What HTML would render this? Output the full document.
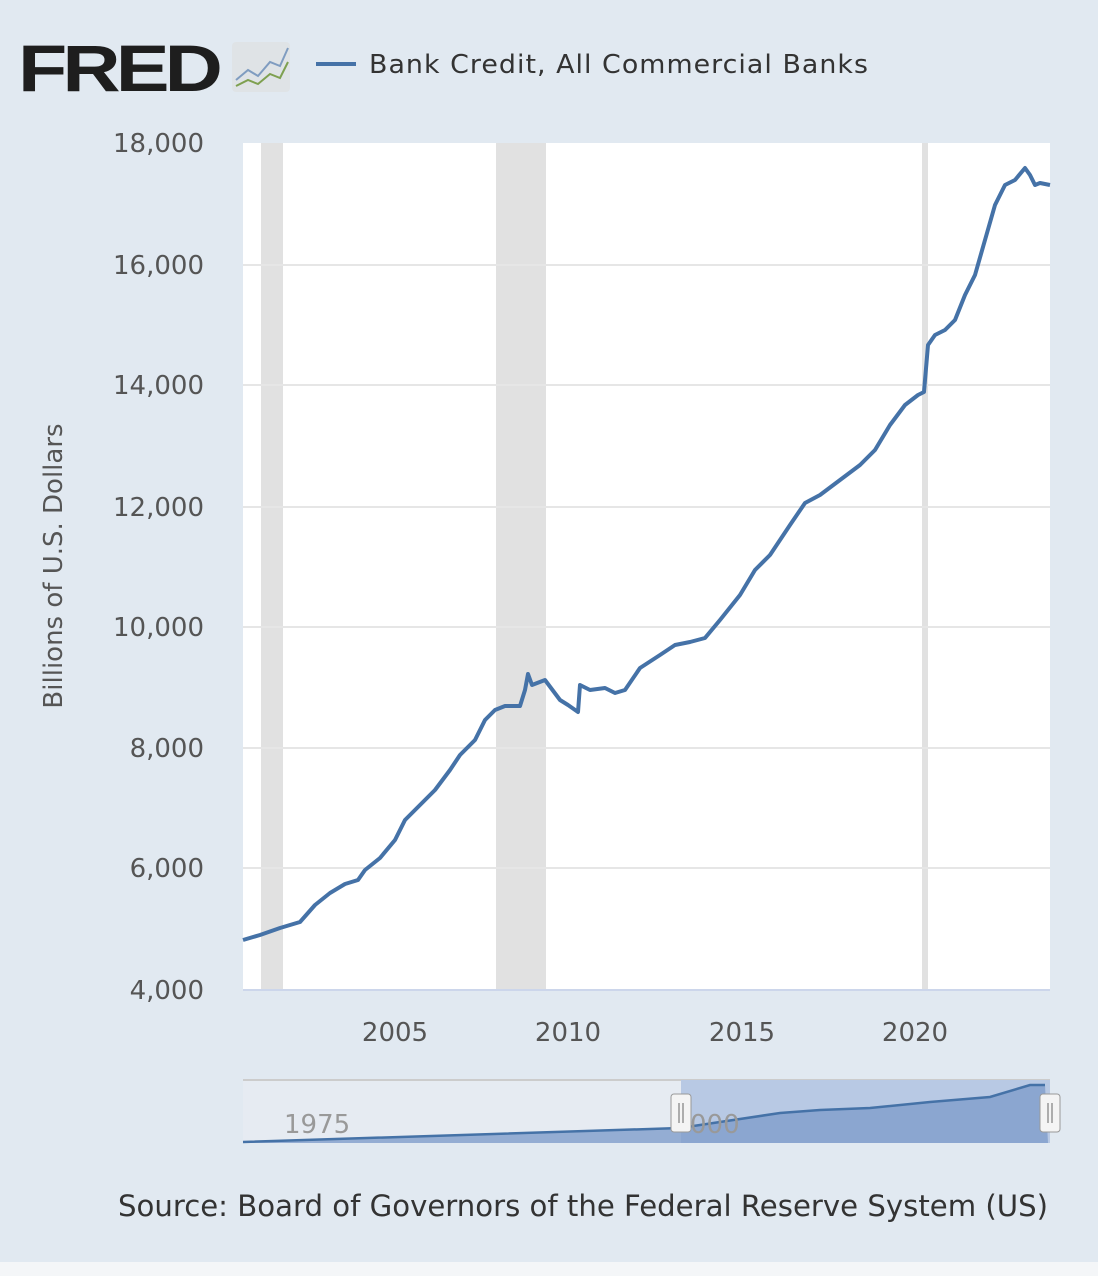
<!DOCTYPE html>
<html><head><meta charset="utf-8"><style>
body{margin:0;width:1098px;height:1276px;background:#e1e9f1;overflow:hidden;font-family:"Liberation Sans",sans-serif}
</style></head><body>
<svg width="1098" height="1276" xmlns="http://www.w3.org/2000/svg" style="position:absolute;left:0;top:0">
<rect x="0" y="0" width="1098" height="1276" fill="#e1e9f1"/>
<rect x="0" y="1262" width="1098" height="14" fill="#f4f6f8"/>
<text x="18" y="91" font-family="Liberation Sans" font-weight="bold" font-size="66" fill="#1e1e1e" letter-spacing="-4" textLength="200" lengthAdjust="spacingAndGlyphs">FRED</text>
<rect x="232" y="42" width="58" height="50" rx="4" fill="#dfe3e6"/>
<polyline points="236,80 248,70 258,76 270,62 280,66 288,48" fill="none" stroke="#7f9cc0" stroke-width="2"/>
<polyline points="236,86 248,80 258,84 270,74 280,78 288,62" fill="none" stroke="#7ea050" stroke-width="2"/>
<line x1="316" y1="64" x2="356" y2="64" stroke="#4572a7" stroke-width="4"/>
<text x="369" y="73" font-size="26" fill="#333" letter-spacing="1" font-family="DejaVu Sans" textLength="500" lengthAdjust="spacingAndGlyphs">Bank Credit, All Commercial Banks</text>
<rect x="243" y="143" width="807" height="847" fill="#fff"/>
<rect x="261" y="143" width="22" height="847" fill="#e1e1e1"/>
<rect x="496" y="143" width="50" height="847" fill="#e1e1e1"/>
<rect x="922" y="143" width="6" height="847" fill="#e1e1e1"/>
<g stroke="#e6e6e6" stroke-width="2">
<line x1="243" y1="265" x2="1050" y2="265"/><line x1="243" y1="385" x2="1050" y2="385"/>
<line x1="243" y1="507" x2="1050" y2="507"/><line x1="243" y1="627" x2="1050" y2="627"/>
<line x1="243" y1="748" x2="1050" y2="748"/><line x1="243" y1="868" x2="1050" y2="868"/>
</g>
<line x1="243" y1="990" x2="1050" y2="990" stroke="#ccd6eb" stroke-width="2"/>
<g font-size="26" fill="#555" text-anchor="end" font-family="DejaVu Sans">
<text x="204" y="152">18,000</text><text x="204" y="274">16,000</text><text x="204" y="394">14,000</text>
<text x="204" y="516">12,000</text><text x="204" y="636">10,000</text><text x="204" y="757">8,000</text>
<text x="204" y="877">6,000</text><text x="204" y="999">4,000</text>
</g>
<g font-size="26" fill="#555" text-anchor="middle" font-family="DejaVu Sans">
<text x="395" y="1041">2005</text><text x="568" y="1041">2010</text><text x="742" y="1041">2015</text><text x="915" y="1041">2020</text>
</g>
<text transform="translate(62,566) rotate(-90)" font-size="26" fill="#555" text-anchor="middle" font-family="DejaVu Sans">Billions of U.S. Dollars</text>
<polyline fill="none" stroke="#4572a7" stroke-width="4" stroke-linejoin="round" points="243,940 260,935 280,928 300,922 315,905 330,893 345,884 358,880 365,870 380,858 395,840 405,820 420,805 435,790 450,770 460,755 475,740 485,720 495,710 505,706 520,706 525,690 528,674 532,685 545,680 560,700 568,705 578,712 580,685 590,690 605,688 615,693 625,690 640,668 660,655 675,645 690,642 705,638 720,620 740,595 755,570 770,555 790,525 805,503 820,495 840,480 860,465 875,450 890,425 905,405 918,395 924,392 928,345 935,335 945,330 955,320 965,295 975,275 985,240 995,205 1005,185 1015,180 1025,168 1030,175 1035,185 1040,183 1050,185"/>
<rect x="243" y="1080" width="807" height="63" fill="#e6ebf2"/>
<line x1="243" y1="1080" x2="1050" y2="1080" stroke="#ccc" stroke-width="2"/>
<rect x="681" y="1080" width="369" height="63" fill="#b8c9e4"/>
<path d="M243,1142 L680,1128 L720,1122 L780,1113 L820,1110 L870,1108 L930,1102 L990,1097 L1030,1085 L1045,1085 L1048,1143 L243,1143 Z" fill="#7f9dcb" opacity="0.8"/>
<polyline fill="none" stroke="#4572a7" stroke-width="2.5" points="243,1142 680,1128 720,1122 780,1113 820,1110 870,1108 930,1102 990,1097 1030,1085 1045,1085"/>
<text x="284" y="1133" font-size="26" fill="#999" font-family="DejaVu Sans">1975</text>
<text x="690" y="1133" font-size="26" fill="#999" font-family="DejaVu Sans">000</text>
<rect x="671" y="1094" width="20" height="38" rx="3" fill="#f4f4f4" stroke="#999"/>
<line x1="679" y1="1103" x2="679" y2="1123" stroke="#666"/><line x1="683" y1="1103" x2="683" y2="1123" stroke="#666"/>
<rect x="1040" y="1094" width="20" height="38" rx="3" fill="#f4f4f4" stroke="#999"/>
<line x1="1048" y1="1103" x2="1048" y2="1123" stroke="#666"/><line x1="1052" y1="1103" x2="1052" y2="1123" stroke="#666"/>
<text x="118" y="1216" font-size="29" fill="#333" font-family="DejaVu Sans" textLength="930" lengthAdjust="spacingAndGlyphs">Source: Board of Governors of the Federal Reserve System (US)</text>
</svg>
</body></html>
